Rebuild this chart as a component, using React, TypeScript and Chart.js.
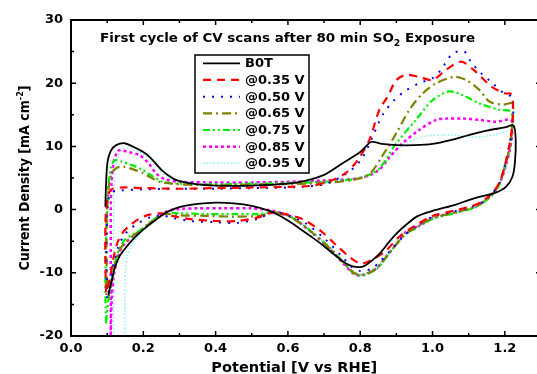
import React, { useEffect, useRef } from 'react';
import { Chart, registerables } from 'chart.js';

Chart.register(...registerables);

type Pt = [number, number];

const FONT = '"DejaVu Sans", "Liberation Sans", sans-serif';

const TITLE_MAIN = 'First cycle of CV scans after 80 min SO';
const TITLE_SUB = '2';
const TITLE_END = ' Exposure';
const X_TITLE = 'Potential [V vs RHE]';
const Y_TITLE_MAIN = 'Current Density [mA cm';
const Y_TITLE_SUP = '-2';
const Y_TITLE_END = ']';

const SERIES_LABELS = ['B0T', '@0.35 V', '@0.50 V', '@0.65 V', '@0.75 V', '@0.85 V', '@0.95 V'];
const X_TICKS = [0, 0.2, 0.4, 0.6, 0.8, 1.0, 1.2];
const Y_TICKS = [-20, -10, 0, 10, 20, 30];

const B0T: Pt[] = [
  [0.095, 0.5], [0.097, 4], [0.101, 7.5], [0.11, 9.3], [0.125, 10.2], [0.148, 10.5], [0.17, 10], [0.2, 9.1],
  [0.22, 8.2], [0.25, 6.3], [0.28, 5], [0.3, 4.5], [0.35, 4], [0.4, 3.8], [0.5, 3.8], [0.6, 4.1], [0.65, 4.6],
  [0.7, 5.5], [0.75, 7.3], [0.8, 9.1], [0.83, 10.7], [0.86, 10.4], [0.9, 10.2], [0.95, 10.2], [1.0, 10.4],
  [1.05, 11], [1.1, 11.8], [1.15, 12.5], [1.2, 13], [1.224, 13.3],
  [1.23, 11], [1.228, 7.5], [1.221, 5.2], [1.203, 3.6], [1.171, 2.6], [1.129, 2.0], [1.1, 1.5], [1.065, 0.8],
  [1.0, -0.2], [0.96, -1.0], [0.931, -2.2], [0.9, -3.8], [0.88, -5.1], [0.855, -6.9], [0.834, -8.0],
  [0.815, -8.8], [0.8, -9.1], [0.779, -9.0], [0.76, -8.5], [0.73, -7.2], [0.696, -5.6], [0.66, -4.1],
  [0.63, -2.9], [0.604, -1.9], [0.575, -0.9], [0.549, -0.2], [0.5, 0.6], [0.45, 1.0], [0.4, 1.1], [0.35, 0.9],
  [0.3, 0.4], [0.268, -0.3], [0.235, -1.6], [0.199, -3.2], [0.18, -4.2], [0.162, -5.3], [0.145, -6.5],
  [0.134, -7.4], [0.12, -9.4], [0.113, -11.2], [0.106, -12.8], [0.104, -13.6]
];

const S035: Pt[] = [
  [0.097, -13], [0.095, -8], [0.095, -3], [0.097, 0], [0.102, 2.2], [0.112, 3.2], [0.14, 3.5], [0.2, 3.4],
  [0.3, 3.3], [0.4, 3.4], [0.5, 3.5], [0.6, 3.6], [0.67, 3.8], [0.72, 4.6], [0.76, 5.8], [0.79, 7.6],
  [0.825, 11], [0.853, 15.8], [0.876, 17.9], [0.9, 20.5], [0.927, 21.3], [0.963, 21], [1.0, 20.5],
  [1.037, 22.1], [1.079, 23.4], [1.12, 21.8], [1.162, 19.5], [1.2, 18.4], [1.217, 18.3], [1.222, 17],
  [1.222, 14.5], [1.218, 12], [1.212, 10], [1.2, 7], [1.185, 4.3], [1.166, 2.7], [1.138, 1.3], [1.111, 0.6],
  [1.065, -0.1], [1.0, -1.0], [0.95, -2.6], [0.908, -4.3], [0.867, -6.7], [0.82, -8.3], [0.8, -8.5],
  [0.775, -7.7], [0.733, -5.6], [0.687, -3.2], [0.64, -1.5], [0.6, -0.8], [0.56, -0.4], [0.52, -1.2],
  [0.46, -1.8], [0.4, -1.8], [0.33, -1.5], [0.28, -1], [0.25, -0.6], [0.217, -0.8], [0.19, -1.4],
  [0.165, -2.4], [0.145, -3.5], [0.13, -5], [0.12, -7], [0.112, -9.5], [0.105, -11.5], [0.098, -13.5]
];

const S050: Pt[] = [
  [0.1, -14], [0.098, -8], [0.099, -2], [0.103, 1.5], [0.115, 2.8], [0.13, 3.0], [0.2, 3.2], [0.3, 3.3],
  [0.4, 3.3], [0.5, 3.4], [0.6, 3.5], [0.7, 4.0], [0.75, 5.3], [0.78, 6.5], [0.805, 8.1], [0.83, 11],
  [0.862, 15], [0.894, 17.3], [0.922, 18.7], [0.963, 20], [1.0, 20.8], [1.023, 22.1], [1.056, 24.7],
  [1.088, 25], [1.106, 23.4], [1.134, 21.6], [1.166, 20], [1.2, 18.3], [1.217, 17.9], [1.223, 16.5],
  [1.222, 14], [1.217, 11.5], [1.21, 9.5], [1.2, 7], [1.185, 4.2], [1.166, 2.6], [1.138, 1.2], [1.111, 0.5],
  [1.065, -0.2], [1.0, -1.1], [0.95, -2.8], [0.92, -4.2], [0.88, -6.7], [0.85, -8.5], [0.83, -9.4],
  [0.8, -9.7], [0.775, -9.0], [0.751, -7.5], [0.705, -4.8], [0.65, -2.2], [0.6, -0.9], [0.56, -0.4],
  [0.52, -1.4], [0.46, -2.1], [0.4, -2.0], [0.33, -1.8], [0.28, -1.3], [0.25, -0.9], [0.22, -1.2],
  [0.19, -2], [0.165, -3], [0.145, -4.2], [0.13, -6], [0.118, -8.5], [0.11, -11], [0.103, -13.5]
];

const S065: Pt[] = [
  [0.1, -12], [0.098, -6], [0.1, 0], [0.105, 4], [0.115, 6], [0.13, 6.7], [0.145, 6.8], [0.17, 6.4],
  [0.198, 5.8], [0.22, 5.1], [0.245, 4.4], [0.28, 4.1], [0.35, 3.9], [0.45, 3.9], [0.55, 4.0], [0.65, 4.1],
  [0.72, 4.3], [0.78, 4.7], [0.825, 5.6], [0.862, 8.6], [0.9, 12.1], [0.936, 15.8], [0.973, 18.4],
  [1.01, 20], [1.06, 21], [1.093, 20.5], [1.13, 18.9], [1.157, 17.1], [1.194, 16.6], [1.221, 16.8],
  [1.221, 14], [1.216, 11], [1.21, 9], [1.2, 6.8], [1.185, 4.1], [1.166, 2.5], [1.138, 1.1], [1.111, 0.3],
  [1.065, -0.4], [1.0, -1.4], [0.95, -3.0], [0.927, -3.8], [0.894, -5.9], [0.87, -7.6], [0.845, -9.3],
  [0.807, -10.3], [0.783, -10.0], [0.753, -8.4], [0.717, -6.2], [0.668, -3.7], [0.61, -1.3], [0.56, -0.5],
  [0.52, -1.0], [0.45, -1.1], [0.38, -1.0], [0.3, -0.9], [0.26, -0.7], [0.23, -1.6], [0.2, -3.0],
  [0.17, -4.2], [0.15, -5.2], [0.135, -6.3], [0.125, -8], [0.115, -10.5], [0.108, -12], [0.1, -13]
];

const S075: Pt[] = [
  [0.097, -18], [0.095, -12], [0.097, -5], [0.1, 0], [0.105, 4.5], [0.112, 7], [0.122, 7.8], [0.14, 7.6],
  [0.17, 7.0], [0.198, 6.3], [0.225, 5.3], [0.253, 4.4], [0.3, 4.1], [0.4, 4.0], [0.5, 4.1], [0.6, 4.2],
  [0.7, 4.4], [0.78, 4.8], [0.82, 5.4], [0.853, 6.5], [0.9, 10.5], [0.954, 14.2], [1.0, 17.3], [1.046, 18.7],
  [1.083, 18.1], [1.13, 16.8], [1.185, 15.8], [1.217, 15.5],
  [1.22, 13], [1.215, 10.5], [1.208, 8.5], [1.198, 6.5], [1.185, 4.0], [1.166, 2.4], [1.138, 1.0],
  [1.111, 0.2], [1.065, -0.5], [1.0, -1.5], [0.95, -3.1], [0.927, -3.7], [0.894, -5.9], [0.87, -7.7],
  [0.845, -9.4], [0.807, -10.4], [0.783, -10.1], [0.753, -8.3], [0.717, -6.1], [0.668, -3.6], [0.61, -1.2],
  [0.56, -0.4], [0.52, -0.7], [0.45, -0.7], [0.38, -0.7], [0.3, -0.6], [0.26, -0.6], [0.23, -1.5],
  [0.2, -2.9], [0.17, -4.0], [0.148, -4.8], [0.132, -6.5], [0.12, -9], [0.11, -12], [0.102, -15], [0.097, -18]
];

const S085: Pt[] = [
  [0.11, -20], [0.11, -12], [0.11, -5], [0.11, 0], [0.112, 4], [0.118, 7.5], [0.128, 9.2], [0.134, 9.4],
  [0.16, 9.1], [0.19, 8.6], [0.215, 7.3], [0.236, 5.7], [0.26, 4.8], [0.3, 4.4], [0.4, 4.3], [0.5, 4.3],
  [0.6, 4.4], [0.7, 4.6], [0.8, 5.0], [0.85, 6.2], [0.88, 8.2], [0.917, 10.5], [0.963, 12.6], [1.01, 14.2],
  [1.04, 14.4], [1.083, 14.4], [1.13, 14.2], [1.175, 13.9], [1.217, 14.2],
  [1.22, 12], [1.214, 9.5], [1.205, 7.5], [1.195, 5.5], [1.183, 3.9], [1.166, 2.5], [1.138, 1.1],
  [1.111, 0.3], [1.065, -0.4], [1.0, -1.3], [0.95, -2.9], [0.927, -3.5], [0.894, -5.9], [0.87, -7.6],
  [0.845, -9.3], [0.807, -10.4], [0.783, -10.2], [0.753, -8.5], [0.717, -6.3], [0.668, -3.7], [0.61, -1.2],
  [0.56, -0.2], [0.5, 0.2], [0.42, 0.2], [0.35, 0.2], [0.3, 0.1], [0.26, -0.4], [0.23, -1.6], [0.2, -3.0],
  [0.17, -4.3], [0.15, -5.3], [0.135, -6.6], [0.125, -8.5], [0.117, -11], [0.113, -14], [0.111, -17], [0.11, -20]
];

const S095: Pt[] = [
  [0.118, -20], [0.118, -10], [0.118, 0], [0.12, 5], [0.128, 8], [0.14, 9.4], [0.155, 9.7], [0.18, 9.3],
  [0.21, 8.3], [0.24, 6.5], [0.27, 5], [0.3, 4.5], [0.4, 4.3], [0.5, 4.3], [0.6, 4.4], [0.7, 4.6], [0.8, 5.0],
  [0.85, 6.3], [0.88, 8.3], [0.92, 10.3], [0.98, 11.6], [1.05, 11.8], [1.117, 11.5], [1.17, 11.8], [1.217, 12.5],
  [1.22, 11], [1.214, 9], [1.205, 7.2], [1.195, 5.3], [1.183, 3.8], [1.166, 2.4], [1.138, 1.0], [1.111, 0.3],
  [1.065, -0.4], [1.0, -1.3], [0.95, -2.9], [0.9, -5.5], [0.86, -8.2], [0.83, -9.6], [0.807, -10.2],
  [0.783, -10.0], [0.753, -8.3], [0.717, -6.1], [0.668, -3.6], [0.61, -1.1], [0.56, -0.2], [0.5, 0.1],
  [0.4, 0.1], [0.3, 0.0], [0.26, -0.5], [0.23, -1.8], [0.2, -3.2], [0.18, -4.6], [0.165, -6], [0.155, -7.5],
  [0.15, -10], [0.149, -15], [0.149, -20]
];

const SERIES_DATA: Pt[][] = [B0T, S035, S050, S065, S075, S085, S095];
const COLORS = ['#000000', '#ff0000', '#0000ff', '#808000', '#00ee00', '#ff00ff', '#88f0f0'];
const DASHES: number[][] = [[], [8, 6], [2, 7], [9, 4, 2, 4], [7, 3, 2, 3, 2, 3], [3, 3], [1.5, 2]];
const WIDTHS = [1.8, 2.2, 2, 2.2, 2.2, 2.5, 1.5];

type Part = { t: string; s: number; dy: number };

function drawRich(ctx: CanvasRenderingContext2D, parts: Part[], x: number, y: number, align: 'left' | 'center', target?: number) {
  let total = 0;
  const widths = parts.map((p) => {
    ctx.font = `bold ${p.s}px ${FONT}`;
    const w = ctx.measureText(p.t).width;
    total += w;
    return w;
  });
  const k = target ? target / total : 1;
  ctx.save();
  ctx.translate(x, y);
  ctx.scale(k, 1);
  let cx = align === 'center' ? -total / 2 : 0;
  ctx.textAlign = 'left';
  ctx.textBaseline = 'alphabetic';
  parts.forEach((p, i) => {
    ctx.font = `bold ${p.s}px ${FONT}`;
    ctx.fillText(p.t, cx, p.dy);
    cx += widths[i];
  });
  ctx.restore();
}

const decorPlugin = {
  id: 'decor',
  afterDatasetsDraw(chart: any) {
    const { ctx, chartArea: a, scales } = chart;
    const xs = scales.x;
    const ys = scales.y;
    ctx.save();
    ctx.strokeStyle = '#000';
    ctx.fillStyle = '#000';
    ctx.lineWidth = 2;
    ctx.strokeRect(a.left, a.top, a.right - a.left, a.bottom - a.top);
    ctx.lineWidth = 1.5;
    ctx.beginPath();
    for (let i = 0; i <= 13; i++) {
      const px = xs.getPixelForValue(i / 10);
      const len = i % 2 === 0 ? 5 : 3;
      ctx.moveTo(px, a.bottom); ctx.lineTo(px, a.bottom - len);
      ctx.moveTo(px, a.top); ctx.lineTo(px, a.top + len);
    }
    for (let v = -20; v <= 30; v += 5) {
      const py = ys.getPixelForValue(v);
      const len = v % 10 === 0 ? 5 : 3;
      ctx.moveTo(a.left, py); ctx.lineTo(a.left + len, py);
      ctx.moveTo(a.right, py); ctx.lineTo(a.right - len, py);
    }
    ctx.stroke();

    drawRich(ctx, [
      { t: TITLE_MAIN, s: 13, dy: 0 },
      { t: TITLE_SUB, s: 9, dy: 4 },
      { t: TITLE_END, s: 13, dy: 0 },
    ], 100, 42, 'left', 375);

    drawRich(ctx, [{ t: X_TITLE, s: 14, dy: 0 }], a.left + (a.right - a.left) * 0.475, 372, 'center', 166);
    ctx.save();
    ctx.translate(29, (a.top + a.bottom) / 2);
    ctx.rotate(-Math.PI / 2);
    drawRich(ctx, [
      { t: Y_TITLE_MAIN, s: 14, dy: 0 },
      { t: Y_TITLE_SUP, s: 9, dy: -6 },
      { t: Y_TITLE_END, s: 14, dy: 0 },
    ], 0, 0, 'center', 185);
    ctx.restore();

    const bx = 195, by = 55, bw = 114, bh = 118;
    ctx.fillStyle = '#fff';
    ctx.fillRect(bx, by, bw, bh);
    ctx.lineWidth = 1.5;
    ctx.strokeStyle = '#000';
    ctx.strokeRect(bx, by, bw, bh);
    chart.data.datasets.forEach((ds: any, i: number) => {
      const yy = by + 8.3 + i * 16.67;
      ctx.save();
      ctx.strokeStyle = ds.borderColor;
      ctx.lineWidth = ds.borderWidth;
      ctx.setLineDash(ds.borderDash || []);
      ctx.beginPath();
      ctx.moveTo(203, yy);
      ctx.lineTo(240, yy);
      ctx.stroke();
      ctx.restore();
      ctx.fillStyle = '#000';
      ctx.font = `bold 13px ${FONT}`;
      ctx.textAlign = 'left';
      ctx.textBaseline = 'middle';
      ctx.fillText(ds.label, 245, yy + 0.5);
    });
    ctx.restore();
  },
};

export default function App() {
  const ref = useRef<HTMLCanvasElement | null>(null);

  useEffect(() => {
    if (!ref.current) return;
    const tickFont = { family: FONT, weight: 'bold' as const, size: 13 };
    const chart = new Chart(ref.current, {
      type: 'scatter',
      data: {
        datasets: SERIES_DATA.map((d, i) => ({
          label: SERIES_LABELS[i],
          data: d.map(([x, y]) => ({ x, y })),
          showLine: true,
          borderColor: COLORS[i],
          backgroundColor: COLORS[i],
          borderWidth: WIDTHS[i],
          borderDash: DASHES[i],
          pointRadius: 0,
          tension: 0.3,
          fill: false,
        })),
      },
      options: {
        responsive: false,
        animation: false,
        layout: { padding: { top: 20, right: 4, left: 0, bottom: 0 } },
        plugins: { legend: { display: false }, tooltip: { enabled: false }, title: { display: false } },
        scales: {
          x: {
            type: 'linear',
            min: 0,
            max: 1.3,
            afterBuildTicks: (s: any) => { s.ticks = X_TICKS.map((v) => ({ value: v })); },
            afterFit: (s: any) => { s.height = 38; },
            ticks: { font: tickFont, color: '#000', padding: 5, callback: (v: any) => Number(v).toFixed(1), maxRotation: 0, autoSkip: false },
            grid: { display: false, drawTicks: false },
            border: { display: false },
          },
          y: {
            type: 'linear',
            min: -20,
            max: 30,
            afterBuildTicks: (s: any) => { s.ticks = Y_TICKS.map((v) => ({ value: v })); },
            afterFit: (s: any) => { s.width = 71; },
            ticks: { font: tickFont, color: '#000', padding: 8, callback: (v: any) => String(v), autoSkip: false },
            grid: { display: false, drawTicks: false },
            border: { display: false },
          },
        },
      },
      plugins: [decorPlugin],
    });
    return () => chart.destroy();
  }, []);

  return (
    <div style={{ position: 'fixed', left: 0, top: 0, width: 537, height: 374, overflow: 'hidden', background: '#fff' }}>
      <canvas ref={ref} width={545} height={374} style={{ width: 545, height: 374, display: 'block' }} />
    </div>
  );
}
